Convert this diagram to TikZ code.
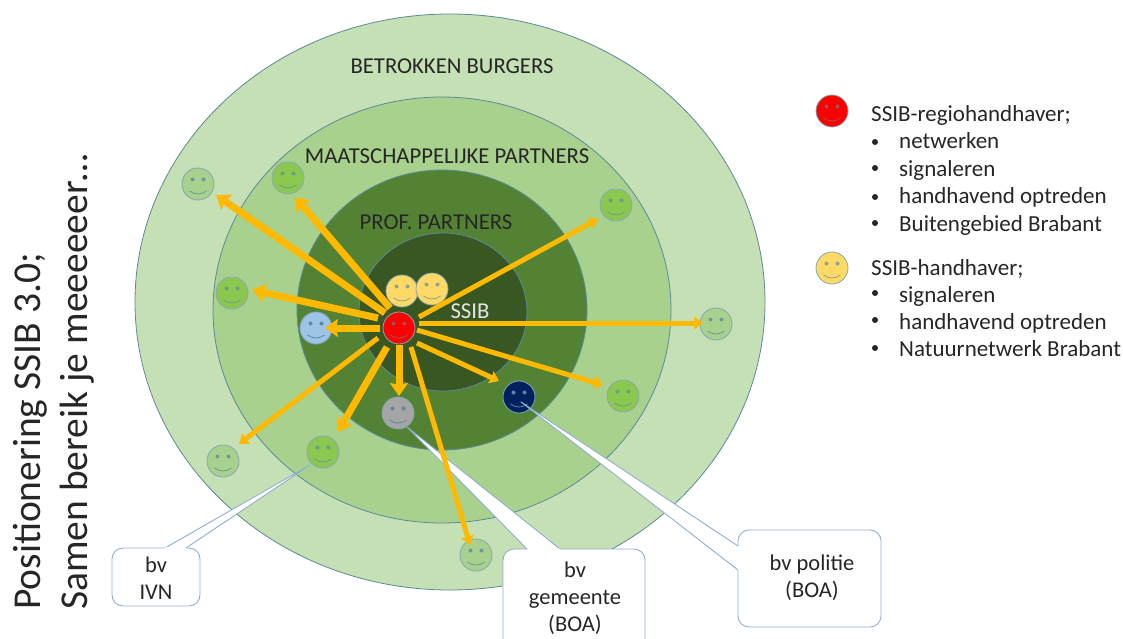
\documentclass[tikz,border=0pt]{standalone}
\usepackage{fontspec}
\setmainfont{Carlito}
\usetikzlibrary{arrows.meta,calc}
\definecolor{ringA}{HTML}{C5E0B4}
\definecolor{ringB}{HTML}{A9D18E}
\definecolor{ringC}{HTML}{548235}
\definecolor{ringD}{HTML}{385723}
\definecolor{edge}{HTML}{5B8A9A}
\definecolor{arrowc}{HTML}{FFB900}
\definecolor{boxedge}{HTML}{8FAFCF}
\definecolor{lime}{HTML}{8CC850}
\definecolor{pale}{HTML}{A9D18E}
\definecolor{sky}{HTML}{9DC3E6}
\definecolor{navy}{HTML}{002060}
\definecolor{grayf}{HTML}{A5A5A5}
\definecolor{sun}{HTML}{FFD966}
\definecolor{txt}{HTML}{262626}
\tikzset{
  ring/.style={draw=edge,line width=0.8pt},
  smile/.style={circle,draw=#1,line width=0.8pt,minimum size=32pt,inner sep=0pt},
  ray/.style={draw=arrowc,line width=7pt,-{Stealth[length=13pt,width=18pt,inset=2pt]}},
  thinray/.style={ray,line width=5pt,-{Stealth[length=9pt,width=13pt,inset=1pt]}},
  call/.style={draw=boxedge,fill=white,line width=0.9pt,rounded corners=11pt},
  wedge/.style={draw=boxedge,fill=white,line width=0.9pt,line join=round},
  lab/.style={font=\fontsize{22.7}{26}\selectfont,text=txt},
  item/.style={font=\fontsize{23}{26}\selectfont,text=txt,anchor=base west,inner sep=0pt},
  dotb/.style={fill=txt},
  boxtext/.style={font=\fontsize{22.5}{27}\selectfont,text=txt,align=center,inner sep=0pt},
  title/.style={rotate=90,anchor=base west,inner sep=0pt,font=\fontsize{39.5}{44}\selectfont,text=txt},
}
% \smiley{name}{x}{y}{fill}{feature colour}
\newcommand{\smiley}[5]{%
  \node[smile=edge!75!white,fill=#4] (#1) at (#2,#3) {};
  \fill[#5] ($(#1)+(-5.5,-4.5)$) circle (2);
  \fill[#5] ($(#1)+(5.5,-4.5)$) circle (2);
  \draw[#5,line width=0.8pt] ($(#1)+(-8.5,7)$) .. controls ($(#1)+(-3,11)$) and ($(#1)+(3,11)$) .. ($(#1)+(8.5,7)$);
}
\begin{document}
\begin{tikzpicture}[x=1pt,y=-1pt]
\useasboundingbox (0,0) rectangle (1123,639);
% rings
\draw[ring,fill=ringA] (450,302) ellipse [x radius=315,y radius=288];
\draw[ring,fill=ringB] (442,310) ellipse [x radius=229,y radius=213];
\draw[ring,fill=ringC] (442,310) ellipse [x radius=145,y radius=140];
\draw[ring,fill=ringD] (443,312) ellipse [x radius=84,y radius=79];
% ring labels
\node[lab] (tb) at (452,66) {BETROKKEN BURGERS};
\node[lab] (tm) at (447,156) {MAATSCHAPPELIJKE PARTNERS};
\node[lab] (tp) at (436,222) {PROF. PARTNERS};
\node[lab,text=white!90!black] (ts) at (470,311) {SSIB};
% smileys
\smiley{s1}{198}{184}{pale}{edge!80!pale}
\smiley{s2}{288}{178}{lime}{edge!70!lime}
\smiley{s3}{616}{205}{lime}{edge!70!lime}
\smiley{s4}{232}{293}{lime}{edge!70!lime}
\smiley{s5}{716}{324}{pale}{edge!80!pale}
\smiley{s6}{623}{396}{lime}{edge!70!lime}
\smiley{s7}{223}{461}{pale}{edge!80!pale}
\smiley{s8}{323}{452}{lime}{edge!70!lime}
\smiley{s9}{476}{555}{pale}{edge!80!pale}
\smiley{sb}{316}{328}{sky}{edge}
\smiley{sg}{398}{413}{grayf}{edge}
\smiley{sn}{519}{397}{navy}{edge}
\smiley{yl}{402}{291}{sun}{edge!70!sun}
\smiley{yr}{432}{289}{sun}{edge!70!sun}
\smiley{red}{399}{328}{red}{edge!60!red}
% callouts
\coordinate (tipa) at (310,465);
\coordinate (tipb) at (407,427);
\coordinate (tipc) at (521,402);
\draw[call] (112,548) rectangle (200,606);
\node[boxtext] (ca) at (156,578) {bv\\IVN};
\draw[call] (503,549) rectangle (645,665);
\node[boxtext] (cb) at (575,598) {bv\\gemeente\\(BOA)};
\draw[call] (738,530) rectangle (881,627);
\node[boxtext] (cc) at (812,578) {bv politie\\(BOA)};
\draw[wedge] (165,548) -- (tipa) -- (186,548);
\fill[white] (164,549.5) -- (166,547) -- (185,547) -- (187,549.5) -- cycle;
\draw[wedge] (527,549) -- (tipb) -- (560,549);
\fill[white] (527,550.5) -- (528,548) -- (559,548) -- (560,550.5) -- cycle;
\draw[wedge] (738,546) -- (tipc) -- (738,570);
\fill[white] (739.5,546) -- (737,547) -- (737,569) -- (739.5,570) -- cycle;
% arrows
\draw[ray] ($(red)+(-14,-15)$) -- ($(s1)+(18,11)$);
\draw[ray] ($(red)+(-9,-20)$) -- ($(s2)+(7,19)$);
\draw[ray] ($(red)+(-21,-10)$) -- ($(s4)+(20,-3)$);
\draw[ray] ($(red)+(-19,0)$) -- ($(sb)+(9,0)$);
\draw[thinray] ($(red)+(-21,10)$) -- ($(s7)+(16,-17)$);
\draw[ray] ($(red)+(-12,19)$) -- ($(s8)+(15,-20)$);
\draw[ray] ($(red)+(0,17)$) -- ($(sg)+(1,-17)$);
\draw[thinray] ($(red)+(12,19)$) -- ($(s9)+(-6,-10)$);
\draw[thinray] ($(red)+(18,15)$) -- ($(sn)+(-20,-16)$);
\draw[thinray] ($(red)+(18,2)$) -- ($(s6)+(-20,-11)$);
\draw[thinray] ($(red)+(20,-5)$) -- ($(s5)+(-13,-1)$);
\draw[thinray] ($(red)+(20,-11)$) -- ($(s3)+(-18,14)$);
% legend
\smiley{lr}{832}{111}{red}{edge!60!red}
\smiley{ly}{832}{268}{sun}{edge!70!sun}
\node[item] (l1) at (871,122) {SSIB-regiohandhaver;};
\foreach \n/\b/\y/\t in {a/142/149/netwerken,b/168/176/signaleren,c/197/204/handhavend optreden,d/223/231/Buitengebied Brabant}{
  \fill[dotb] (875,\b) circle (3);
  \node[item] (k\n) at (899,\y) {\t};
}
\node[item] (l2) at (871,275) {SSIB-handhaver;};
\foreach \n/\b/\y/\t in {e/293/302/signaleren,f/320/329/handhavend optreden,g/348/356/Natuurnetwerk Brabant}{
  \fill[dotb] (875,\b) circle (3);
  \node[item] (k\n) at (899,\y) {\t};
}
% title
\node[title] (t1) at (40,610) {Positionering SSIB 3.0;};
\node[title] (t2) at (87,610) {Samen bereik je meeeeeer…};
\end{tikzpicture}
\end{document}
